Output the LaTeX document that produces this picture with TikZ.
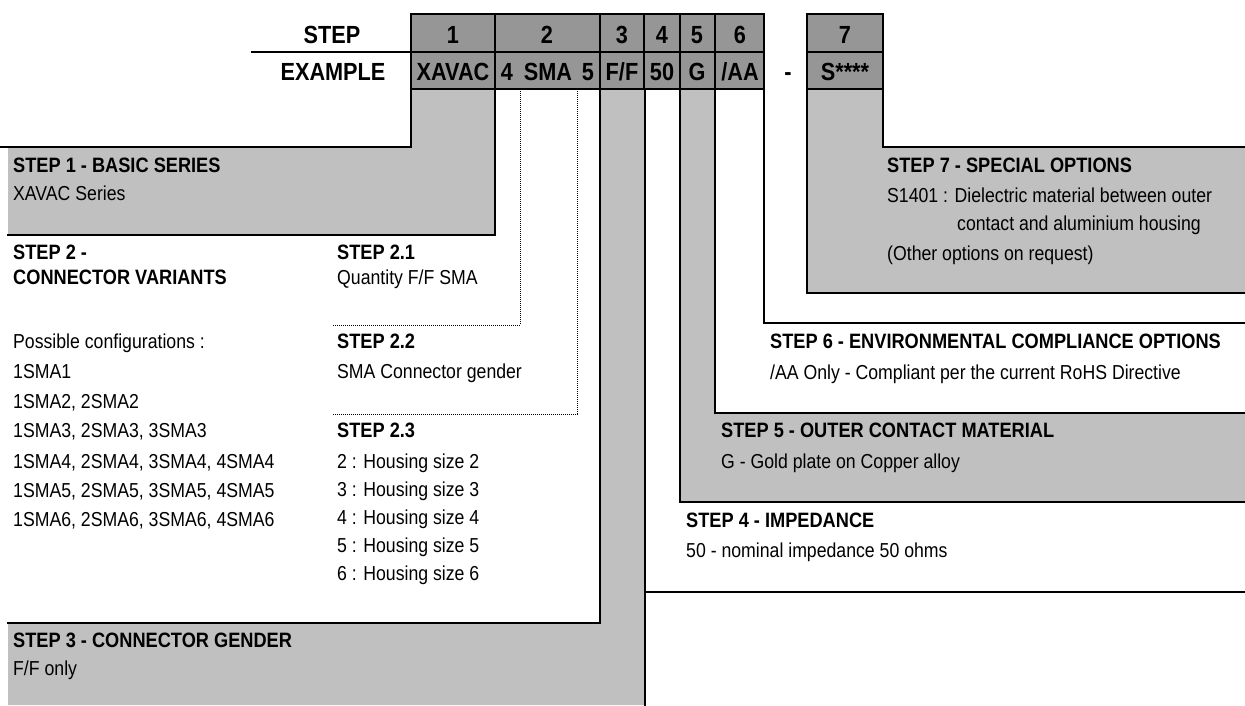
\documentclass[tikz,border=0pt]{standalone}
\usepackage{fontspec}
\setmainfont{Liberation Sans}[FakeStretch=0.875]
\begin{document}
\begin{tikzpicture}[x=1pt,y=-1pt]
\definecolor{hdr}{RGB}{150,150,150}
\definecolor{lg}{RGB}{192,192,192}
\tikzset{
  bline/.style={line width=2.6pt, line join=miter, line cap=rect},
  dline/.style={densely dotted, line width=1pt},
  txt/.style={anchor=base west, inner sep=0pt, font=\fontsize{20.2}{24}\selectfont},
  txtb/.style={anchor=base west, inner sep=0pt, font=\fontsize{20.8}{24}\selectfont\bfseries},
  cell/.style={anchor=base, inner sep=0pt, font=\fontsize{24.8}{28}\selectfont\bfseries},
}
\useasboundingbox (0,0) rectangle (1245,705);
% gray regions
\fill[lg] (411,89) -- (495,89) -- (495,235) -- (8,235) -- (8,147) -- (411,147) -- cycle;
\fill[lg] (600,89) -- (645,89) -- (645,705) -- (8,705) -- (8,623) -- (600,623) -- cycle;
\fill[lg] (680,89) -- (715,89) -- (715,413) -- (1245,413) -- (1245,502) -- (680,502) -- cycle;
\fill[lg] (807,89) -- (883,89) -- (883,147) -- (1245,147) -- (1245,293) -- (807,293) -- cycle;
% header table
\filldraw[fill=hdr, bline] (411,14) rectangle (764,89);
\draw[bline] (411,52) -- (764,52);
\foreach \xx in {495,600,644,680,715} \draw[bline] (\xx,14) -- (\xx,89);
\filldraw[fill=hdr, bline] (807,14) rectangle (883,89);
\draw[bline] (807,52) -- (883,52);
\draw[bline] (252,52) -- (411,52);
% boundary lines
\draw[bline] (0,147) -- (411,147) -- (411,89);
\draw[bline] (495,89) -- (495,235) -- (8,235);
\draw[bline] (600,89) -- (600,623) -- (8,623);
\draw[bline] (645,89) -- (645,705);
\draw[bline] (680,89) -- (680,502) -- (1245,502);
\draw[bline] (645,592) -- (1245,592);
\draw[bline] (715,89) -- (715,413) -- (1245,413);
\draw[bline] (764,89) -- (764,323) -- (1245,323);
\draw[bline] (883,89) -- (883,147) -- (1245,147);
\draw[bline] (807,89) -- (807,293) -- (1245,293);
\draw[dline] (520,89) -- (520,325) -- (333,325);
\draw[dline] (577,89) -- (577,414) -- (332,414);
% header texts
\node[cell] (hstep) at (332,43) {STEP};
\node[cell] (hex) at (333,80) {EXAMPLE};
\node[cell] (n1) at (453,43) {1};
\node[cell] (n2) at (547,43) {2};
\node[cell] (n3) at (622,43) {3};
\node[cell] (n4) at (662,43) {4};
\node[cell] (n5) at (697,43) {5};
\node[cell] (n6) at (740,43) {6};
\node[cell] (n7) at (845,43) {7};
\node[cell] (e1) at (453,80) {XAVAC};
\node[cell] (e2a) at (507,80) {4};
\node[cell] (e2b) at (548,80) {SMA};
\node[cell] (e2c) at (588,80) {5};
\node[cell] (e3) at (622,80) {F/F};
\node[cell] (e4) at (662,80) {50};
\node[cell] (e5) at (697,80) {G};
\node[cell] (e6) at (740,80) {/AA};
\node[cell] (edash) at (788,80) {-};
\node[cell] (e7) at (845,80) {S****};
% step 1
\node[txtb] (s1h) at (13,172) {STEP 1 - BASIC SERIES};
\node[txt] (s1t) at (13,200) {XAVAC Series};
% step 2
\node[txtb] (s2h) at (13,259) {STEP 2 -};
\node[txtb] (s2h2) at (13,284) {CONNECTOR VARIANTS};
\node[txt] (c0) at (13,348) {Possible configurations :};
\node[txt] (c1) at (13,378) {1SMA1};
\node[txt] (c2) at (13,408) {1SMA2, 2SMA2};
\node[txt] (c3) at (13,437) {1SMA3, 2SMA3, 3SMA3};
\node[txt] (c4) at (13,468) {1SMA4, 2SMA4, 3SMA4, 4SMA4};
\node[txt] (c5) at (13,497) {1SMA5, 2SMA5, 3SMA5, 4SMA5};
\node[txt] (c6) at (13,526) {1SMA6, 2SMA6, 3SMA6, 4SMA6};
\node[txtb] (s21h) at (337,259) {STEP 2.1};
\node[txt] (s21t) at (337,284) {Quantity F/F SMA};
\node[txtb] (s22h) at (337,348) {STEP 2.2};
\node[txt] (s22t) at (337,378) {SMA Connector gender};
\node[txtb] (s23h) at (337,437) {STEP 2.3};
\node[txt] (h2) at (337,468) {2 : Housing size 2};
\node[txt] (h3) at (337,496) {3 : Housing size 3};
\node[txt] (h4) at (337,524) {4 : Housing size 4};
\node[txt] (h5) at (337,552) {5 : Housing size 5};
\node[txt] (h6) at (337,580) {6 : Housing size 6};
% step 3
\node[txtb] (s3h) at (13,647) {STEP 3 - CONNECTOR GENDER};
\node[txt] (s3t) at (13,675) {F/F only};
% step 4
\node[txtb] (s4h) at (686,527) {STEP 4 - IMPEDANCE};
\node[txt] (s4t) at (686,557) {50 - nominal impedance 50 ohms};
% step 5
\node[txtb] (s5h) at (721,437) {STEP 5 - OUTER CONTACT MATERIAL};
\node[txt] (s5t) at (721,468) {G - Gold plate on Copper alloy};
% step 6
\node[txtb] (s6h) at (770,348) {STEP 6 - ENVIRONMENTAL COMPLIANCE OPTIONS};
\node[txt] (s6t) at (770,379) {/AA Only - Compliant per the current RoHS Directive};
% step 7
\node[txtb] (s7h) at (887,172) {STEP 7 - SPECIAL OPTIONS};
\node[txt] (s7a) at (887,202) {S1401 : Dielectric material between outer};
\node[txt] (s7b) at (957,230) {contact and aluminium housing};
\node[txt] (s7c) at (887,260) {(Other options on request)};
\end{tikzpicture}
\end{document}
